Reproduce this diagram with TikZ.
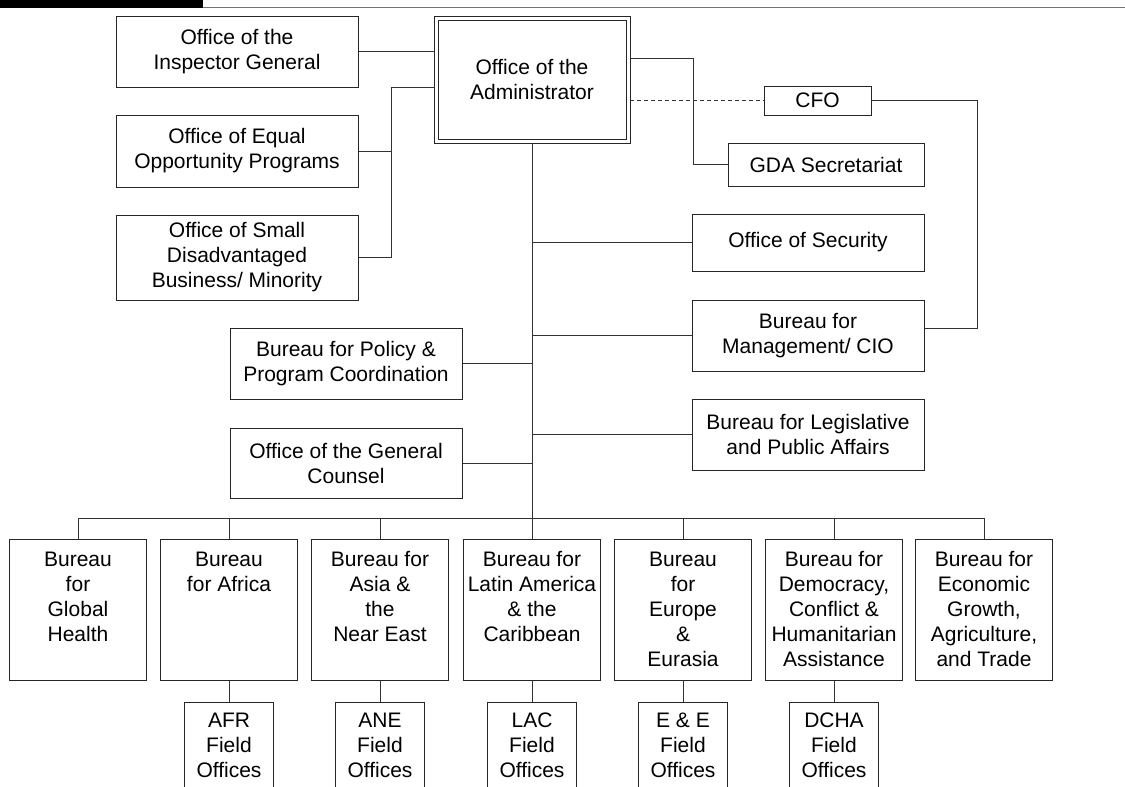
\documentclass[tikz,border=0pt]{standalone}
\usepackage{fontspec}
\setmainfont{Liberation Sans}
\begin{document}
\begin{tikzpicture}[x=1pt,y=-1pt,
  every node/.style={font=\fontsize{21}{25}\selectfont},
  ln/.style={draw=black!80, line width=1pt},
  box/.style={draw=black!85, line width=1pt, inner sep=0pt, align=center, fill=white},
  bur/.style={box, minimum width=137pt, minimum height=141pt},
  fld/.style={box, minimum width=89pt, minimum height=90pt},
  txt/.style={inner sep=0pt, align=center, anchor=north}]
\clip (0,0) rectangle (1125,787);
\fill[black] (0,0) rectangle (203,8);
\draw[black!55, line width=1.4pt] (203,7.3) -- (1125,7.3);

% upper boxes
\node[box, minimum width=242pt, minimum height=71pt] (ig) at (237,51.5) {Office of the\\Inspector General};
\node[box, minimum width=242pt, minimum height=72pt] (eo) at (237,151) {Office of Equal\\Opportunity Programs};
\node[box, minimum width=242pt, minimum height=85pt] (sd) at (237,257.5) {Office of Small\\Disadvantaged\\Business/ Minority};
\node[box, double, double distance=3pt, outer sep=2pt, minimum width=192pt, minimum height=123pt] (adm) at (532,79.5) {Office of the\\Administrator};
\node[box, minimum width=107pt, minimum height=29pt] (cfo) at (817.5,100.5) {CFO};
\node[box, minimum width=196pt, minimum height=43pt] (gda) at (826,164.5) {GDA Secretariat};
\node[box, minimum width=232pt, minimum height=57pt] (sec) at (808,242.5) {Office of Security};
\node[box, minimum width=232pt, minimum height=71pt] (mgt) at (808,335.5) {Bureau for\\Management/ CIO};
\node[box, minimum width=232pt, minimum height=71pt] (leg) at (808,434.5) {Bureau for Legislative\\and Public Affairs};
\node[box, minimum width=232pt, minimum height=71pt] (ppc) at (346,363.5) {Bureau for Policy \&\\Program Coordination};
\node[box, minimum width=232pt, minimum height=70pt] (gc) at (346,463) {Office of the General\\Counsel};

% bureaus
\node[bur] (b1) at (78,609.5) {};
\node[bur] (b2) at (229,609.5) {};
\node[bur] (b3) at (380,609.5) {};
\node[bur] (b4) at (532,609.5) {};
\node[bur] (b5) at (683,609.5) {};
\node[bur] (b6) at (834,609.5) {};
\node[bur] (b7) at (984,609.5) {};
\node[txt] (t1) at ([yshift=-13pt]b1.north) {Bureau\\for\\Global\\Health};
\node[txt] (t2) at ([yshift=-13pt]b2.north) {Bureau\\for Africa};
\node[txt] (t3) at ([yshift=-13pt]b3.north) {Bureau for\\Asia \&\\the\\Near East};
\node[txt] (t4) at ([yshift=-13pt]b4.north) {Bureau for\\Latin America\\\& the\\Caribbean};
\node[txt] (t5) at ([yshift=-13pt]b5.north) {Bureau\\for\\Europe\\\&\\Eurasia};
\node[txt] (t6) at ([yshift=-13pt]b6.north) {Bureau for\\Democracy,\\Conflict \&\\Humanitarian\\Assistance};
\node[txt] (t7) at ([yshift=-13pt]b7.north) {Bureau for\\Economic\\Growth,\\Agriculture,\\and Trade};

% field offices
\node[fld] (f2) at (229,747) {};
\node[fld] (f3) at (380,747) {};
\node[fld] (f4) at (532,747) {};
\node[fld] (f5) at (683,747) {};
\node[fld] (f6) at (834,747) {};
\node[txt] (u2) at ([yshift=-11pt]f2.north) {AFR\\Field\\Offices};
\node[txt] (u3) at ([yshift=-11pt]f3.north) {ANE\\Field\\Offices};
\node[txt] (u4) at ([yshift=-11pt]f4.north) {LAC\\Field\\Offices};
\node[txt] (u5) at ([yshift=-11pt]f5.north) {E \& E\\Field\\Offices};
\node[txt] (u6) at ([yshift=-11pt]f6.north) {DCHA\\Field\\Offices};

% junctions
\coordinate (jl) at (391,87);
\coordinate (ja) at (693,58);
\coordinate (jc) at (977,328);
\coordinate (bus) at (532,518);

% connectors
\draw[ln] (ig.east) -- (ig.east -| adm.west);
\draw[ln] (eo.east) -- (eo.east -| jl);
\draw[ln] (sd.east) -| (jl) -- (jl -| adm.west);
\draw[ln] (ja -| adm.east) -- (ja) |- (gda.west);
\draw[ln, dash pattern=on 4pt off 3pt] (cfo.west -| adm.east) -- (cfo.west);
\draw[ln] (cfo.east) -| (jc) -- (jc -| mgt.east);
\draw[ln] (adm.south) -- (bus);
\draw[ln] (sec.west) -- (sec.west -| bus);
\draw[ln] (mgt.west) -- (mgt.west -| bus);
\draw[ln] (leg.west) -- (leg.west -| bus);
\draw[ln] (ppc.east) -- (ppc.east -| bus);
\draw[ln] (gc.east) -- (gc.east -| bus);
\draw[ln] (b1.north |- bus) -- (b7.north |- bus);
\foreach \i in {1,...,7} \draw[ln] (b\i.north |- bus) -- (b\i.north);
\foreach \i in {2,...,6} \draw[ln] (b\i.south) -- (f\i.north);
\end{tikzpicture}
\end{document}
